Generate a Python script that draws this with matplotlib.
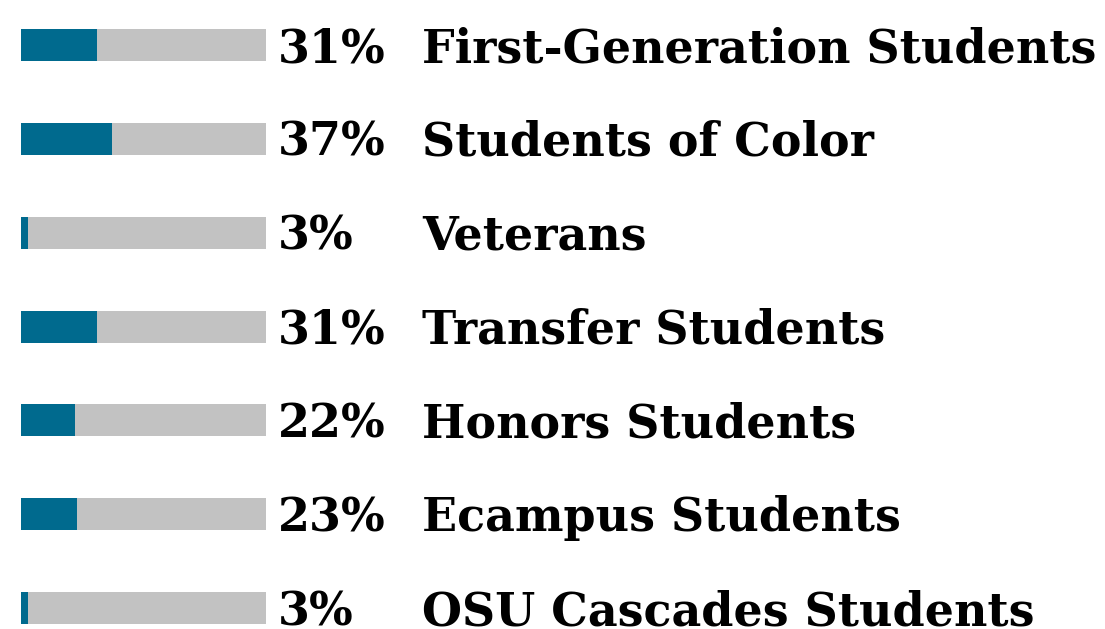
import matplotlib
matplotlib.use("Agg")
import matplotlib.pyplot as plt
import matplotlib.transforms as mtransforms

categories = ["First-Generation Students", "Students of Color", "Veterans",
              "Transfer Students", "Honors Students", "Ecampus Students",
              "OSU Cascades Students"]
values = [31, 37, 3, 31, 22, 23, 3]
labels = ["31%", "37%", "3%", "31%", "22%", "23%", "3%"]

TEAL = "#006A8E"
GRAY = "#C2C2C2"
FONT = "DejaVu Serif"

W, H = 1105, 629
fig = plt.figure(figsize=(W / 100, H / 100), dpi=100)

n = len(categories)
top_c, bot_c = 45, 608
step = (bot_c - top_c) / (n - 1)
y_bottom = 1 - (bot_c + step / 2) / H
ax = fig.add_axes([21 / W, y_bottom, 245 / W, n * step / H])
ax.set_xlim(0, 100)
ax.set_ylim(n - 0.5, -0.5)
ax.axis("off")

ypos = list(range(n))
bh = 32 / step
ax.barh(ypos, [100] * n, height=bh, color=GRAY, clip_on=False)
ax.barh(ypos, values, height=bh, color=TEAL, clip_on=False)

# fit font size so the longest label spans ~675 px like the reference
renderer = fig.canvas.get_renderer()
probe = fig.text(0, 0, categories[0], fontsize=40, fontweight="bold", family=FONT)
wpx = probe.get_window_extent(renderer).width
probe.remove()
fs = 40 * 675 / wpx

trans = mtransforms.blended_transform_factory(fig.transFigure, ax.transData)
for i, (lab, cat) in enumerate(zip(labels, categories)):
    ax.annotate(lab, xy=(100, i), xytext=(12, -17), textcoords="offset pixels",
                ha="left", va="baseline", fontsize=fs, fontweight="bold",
                family=FONT, color="black", annotation_clip=False)
    ax.annotate(cat, xy=(422 / W, i), xycoords=trans, xytext=(0, -17),
                textcoords="offset pixels", ha="left", va="baseline",
                fontsize=fs, fontweight="bold", family=FONT, color="black",
                annotation_clip=False)

fig.savefig("out.png", dpi=100)
